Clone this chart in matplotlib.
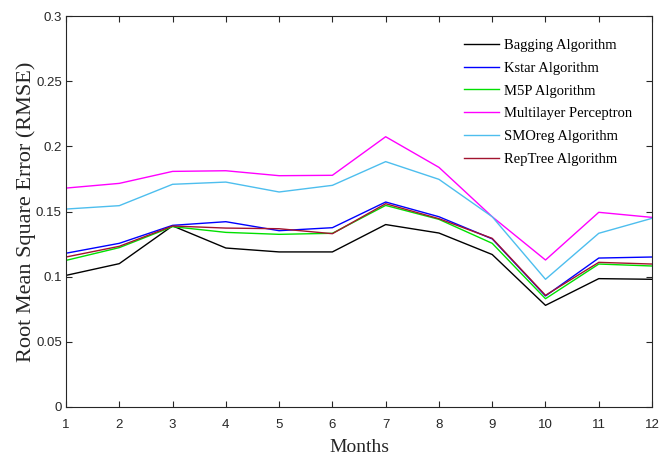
import matplotlib
matplotlib.use("Agg")
import matplotlib.pyplot as plt

months = list(range(1, 13))

bagging = [0.101, 0.110, 0.139, 0.122, 0.119, 0.119, 0.140, 0.1335, 0.117, 0.078, 0.0985, 0.098]
kstar = [0.118, 0.1256, 0.1394, 0.1422, 0.1353, 0.1376, 0.1573, 0.146, 0.129, 0.0852, 0.1143, 0.1151]
m5p = [0.1125, 0.1223, 0.1384, 0.134, 0.1325, 0.1333, 0.1547, 0.144, 0.1256, 0.0831, 0.1097, 0.1082]
mlp = [0.168, 0.1716, 0.1808, 0.1813, 0.1775, 0.1778, 0.2074, 0.1839, 0.146, 0.1128, 0.1494, 0.1455]
smoreg = [0.1519, 0.1545, 0.1709, 0.1726, 0.165, 0.1701, 0.1883, 0.1747, 0.146, 0.098, 0.1333, 0.1448]
reptree = [0.1151, 0.1233, 0.1389, 0.1373, 0.1368, 0.133, 0.156, 0.1445, 0.1294, 0.0857, 0.111, 0.1097]

series = [
    ("Bagging Algorithm", bagging, "#000000"),
    ("Kstar Algorithm", kstar, "#0000FF"),
    ("M5P Algorithm", m5p, "#00E000"),
    ("Multilayer Perceptron", mlp, "#FF00FF"),
    ("SMOreg Algorithm", smoreg, "#4DBEEE"),
    ("RepTree Algorithm", reptree, "#A2142F"),
]

fig = plt.figure(figsize=(6.64, 4.59), dpi=100)
ax = fig.add_axes([0.0994, 0.1133, 0.8826, 0.8517])

for label, vals, color in series:
    ax.plot(months, vals, color=color, linewidth=1.0, label=label)

ax.set_xlim(1, 12)
ax.set_ylim(0, 0.3)
ax.set_xticks(months)
ax.set_yticks([0, 0.05, 0.1, 0.15, 0.2, 0.25, 0.3])
ax.set_yticklabels(["0", "0.05", "0.1", "0.15", "0.2", "0.25", "0.3"])
ax.tick_params(direction="in", top=True, right=True, length=4.5, width=0.8,
               labelsize=9.5, colors="#262626")
ax.tick_params(axis="x", pad=9)
ax.tick_params(axis="y", pad=3)
for lbl in ax.get_xticklabels() + ax.get_yticklabels():
    lbl.set_family("Liberation Sans")
for sp in ax.spines.values():
    sp.set_color("#262626")
    sp.set_linewidth(0.8)

ax.set_xlabel("Months", fontsize=14, family="Liberation Serif", color="#262626")
ax.xaxis.set_label_coords(0.5, -0.083)
ax.set_ylabel("Root Mean Square Error (RMSE)", fontsize=16, family="Liberation Serif",
              color="#262626")
ax.yaxis.set_label_coords(-0.051, 0.5)

leg = ax.legend(loc="upper right", frameon=False, prop={"family": "Liberation Serif", "size": 10.5},
                labelspacing=0.65, handlelength=2.4, handletextpad=0.35,
                bbox_to_anchor=(0.988, 0.975))

fig.savefig("out.png", dpi=100)
